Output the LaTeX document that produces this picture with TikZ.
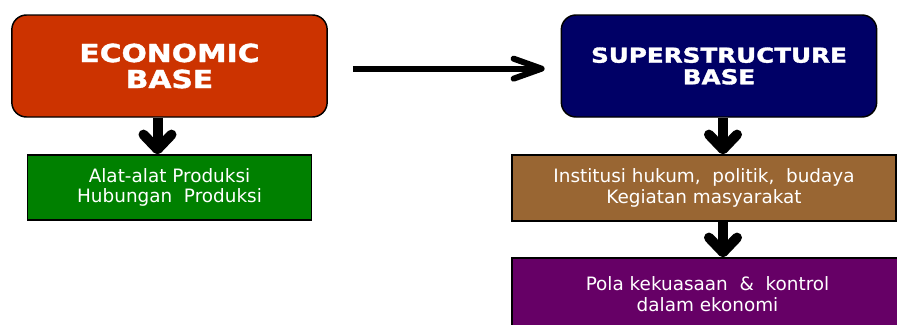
\documentclass[tikz,border=0pt]{standalone}
\usepackage{fontspec}
\setmainfont{DejaVu Sans}
\newfontfamily\headfont[FakeStretch=1.2, FakeBold=1.6]{DejaVu Sans Bold}
\usetikzlibrary{arrows.meta}

\definecolor{ecored}{HTML}{CC3300}
\definecolor{supblue}{HTML}{000066}
\definecolor{alatgreen}{HTML}{008000}
\definecolor{instbrown}{HTML}{996633}
\definecolor{polapurple}{HTML}{660066}

\tikzset{
	basebox/.style={draw=black, line width=1.1pt, rounded corners=11pt, text=white, align=center, minimum width=236.5pt, minimum height=76.5pt},
	itembox/.style={draw=black, line width=1.1pt, text=white, align=center, font=\fontsize{13.8}{15.5}\selectfont},
	downarrow/.style={line width=7.5pt, -{Straight Barb[length=11pt, width=21pt, round]}},
	sidearrow/.style={line width=4.5pt, -{Straight Barb[length=21pt, width=15pt, round]}}
}

\begin{document}
\begin{tikzpicture}[x=0.75pt, y=-0.75pt]
	\useasboundingbox (0, 0) rectangle (897, 325);

		\node[basebox, fill=ecored, font=\headfont\fontsize{18.6}{19.5}\selectfont] (eco) at(169.5, 66){ECONOMIC\\BASE};
		\node[basebox, fill=supblue, font=\headfont\fontsize{15.4}{16.2}\selectfont] (super) at(719, 66){SUPERSTRUCTURE\\BASE};

		\node[itembox, fill=alatgreen, minimum width=213pt, minimum height=48.75pt] (alat) at(169.5, 187.5){Alat-alat Produksi\\Hubungan~ Produksi};
		\node[itembox, fill=instbrown, minimum width=288pt, minimum height=49.5pt] (inst) at(704, 188){Institusi hukum,~ politik,~ budaya\\Kegiatan masyarakat};
		\node[itembox, fill=polapurple, minimum width=293.25pt, minimum height=54pt] (pola) at(707.5, 294){Pola kekuasaan~ \&~ kontrol\\dalam ekonomi};

		\draw[downarrow] ([xshift=-9pt]eco.south) to ([xshift=-9pt]alat.north);
		\draw[downarrow] ([xshift=3pt]super.south) to ([xshift=3pt]super.south |- inst.north);
		\draw[downarrow] ([xshift=3pt]super.south |- inst.south) to ([xshift=3pt]super.south |- pola.north);

		\draw[sidearrow, shorten <=18.75pt, shorten >=12pt] ([yshift=-2pt]eco.east) to ([yshift=-2pt]super.west);

\end{tikzpicture}
\end{document}
